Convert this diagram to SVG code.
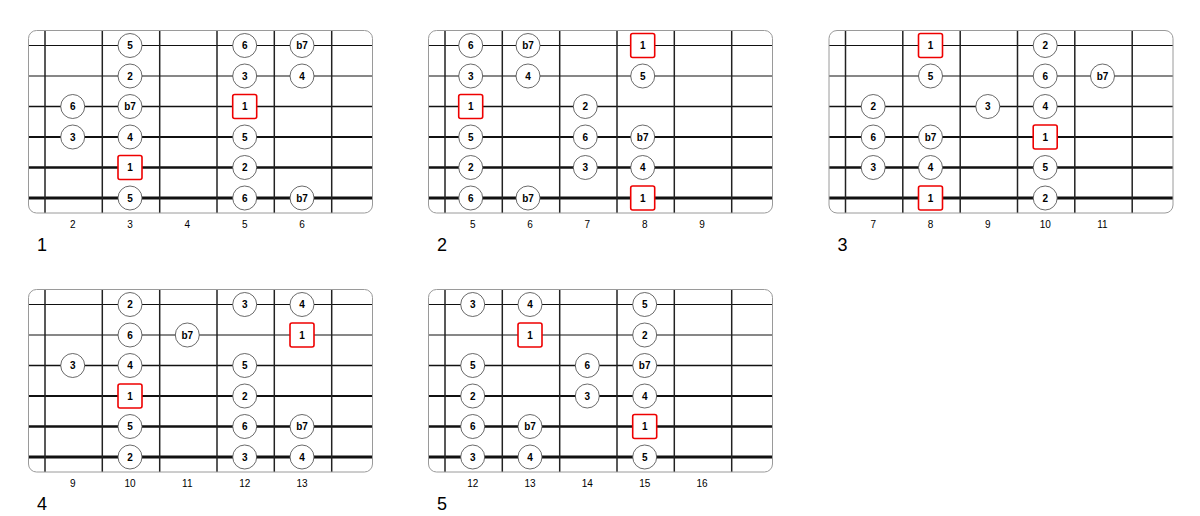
<svg xmlns="http://www.w3.org/2000/svg" width="1200" height="516" viewBox="0 0 1200 516">
<style>
.bg{fill:#fff}
.frame{fill:none;stroke:#9a9a9a;stroke-width:1}
.fret{stroke:#222;stroke-width:1.5}
.s0{stroke:#111;stroke-width:1}
.s1{stroke:#111;stroke-width:1.2}
.s2{stroke:#111;stroke-width:1.6}
.s3{stroke:#111;stroke-width:2}
.s4{stroke:#111;stroke-width:2.4}
.s5{stroke:#111;stroke-width:2.8}
.dot circle{fill:#fff;stroke:#444;stroke-width:0.8}
.root rect{fill:#fff;stroke:#e00;stroke-width:1.6}
.dot text,.root text{font-family:"Liberation Sans",Arial,sans-serif;font-size:10px;font-weight:bold;text-anchor:middle;fill:#000}
.fl{font-family:"Liberation Sans",Arial,sans-serif;font-size:10px;text-anchor:middle;fill:#000}
.num{font-family:"Liberation Sans",Arial,sans-serif;font-size:18px;fill:#000}
</style>
<defs>
<g id="board">
<rect class="bg" x="28.5" y="30.5" width="344" height="182.5" rx="8"/>
<line class="s0" x1="28.5" y1="45.5" x2="372.5" y2="45.5"/>
<line class="s1" x1="28.5" y1="76" x2="372.5" y2="76"/>
<line class="s2" x1="28.5" y1="106.5" x2="372.5" y2="106.5"/>
<line class="s3" x1="28.5" y1="137" x2="372.5" y2="137"/>
<line class="s4" x1="28.5" y1="167.5" x2="372.5" y2="167.5"/>
<line class="s5" x1="28.5" y1="198" x2="372.5" y2="198"/>
<line class="fret" x1="45" y1="30.5" x2="45" y2="213"/>
<line class="fret" x1="102.3" y1="30.5" x2="102.3" y2="213"/>
<line class="fret" x1="159.7" y1="30.5" x2="159.7" y2="213"/>
<line class="fret" x1="217" y1="30.5" x2="217" y2="213"/>
<line class="fret" x1="274.3" y1="30.5" x2="274.3" y2="213"/>
<line class="fret" x1="331.7" y1="30.5" x2="331.7" y2="213"/>
<rect class="frame" x="28.5" y="30.5" width="344" height="182.5" rx="8"/>
</g>
</defs>

<!-- Diagram 1 -->
<g id="diagram1">
<use href="#board"/>
<g id="d1-labels">
<text class="fl" x="72.7" y="227.5">2</text><text class="fl" x="130" y="227.5">3</text><text class="fl" x="187.3" y="227.5">4</text><text class="fl" x="244.7" y="227.5">5</text><text class="fl" x="302" y="227.5">6</text>
<text class="num" x="37" y="251">1</text>
</g>
<g id="d1-s1-c1" class="dot" transform="translate(130,45.5)"><circle r="12"/><text y="3.5">5</text></g>
<g id="d1-s1-c3" class="dot" transform="translate(244.7,45.5)"><circle r="12"/><text y="3.5">6</text></g>
<g id="d1-s1-c4" class="dot" transform="translate(302,45.5)"><circle r="12"/><text y="3.5">b7</text></g>
<g id="d1-s2-c1" class="dot" transform="translate(130,76)"><circle r="12"/><text y="3.5">2</text></g>
<g id="d1-s2-c3" class="dot" transform="translate(244.7,76)"><circle r="12"/><text y="3.5">3</text></g>
<g id="d1-s2-c4" class="dot" transform="translate(302,76)"><circle r="12"/><text y="3.5">4</text></g>
<g id="d1-s3-c0" class="dot" transform="translate(72.7,106.5)"><circle r="12"/><text y="3.5">6</text></g>
<g id="d1-s3-c1" class="dot" transform="translate(130,106.5)"><circle r="12"/><text y="3.5">b7</text></g>
<g id="d1-s3-c3" class="root" transform="translate(244.7,106.5)"><rect x="-12" y="-12" width="24" height="24" rx="2"/><text y="3.5">1</text></g>
<g id="d1-s4-c0" class="dot" transform="translate(72.7,137)"><circle r="12"/><text y="3.5">3</text></g>
<g id="d1-s4-c1" class="dot" transform="translate(130,137)"><circle r="12"/><text y="3.5">4</text></g>
<g id="d1-s4-c3" class="dot" transform="translate(244.7,137)"><circle r="12"/><text y="3.5">5</text></g>
<g id="d1-s5-c1" class="root" transform="translate(130,167.5)"><rect x="-12" y="-12" width="24" height="24" rx="2"/><text y="3.5">1</text></g>
<g id="d1-s5-c3" class="dot" transform="translate(244.7,167.5)"><circle r="12"/><text y="3.5">2</text></g>
<g id="d1-s6-c1" class="dot" transform="translate(130,198)"><circle r="12"/><text y="3.5">5</text></g>
<g id="d1-s6-c3" class="dot" transform="translate(244.7,198)"><circle r="12"/><text y="3.5">6</text></g>
<g id="d1-s6-c4" class="dot" transform="translate(302,198)"><circle r="12"/><text y="3.5">b7</text></g>
</g>

<!-- Diagram 2 -->
<g id="diagram2" transform="translate(400,0)">
<use href="#board"/>
<g id="d2-labels">
<text class="fl" x="72.7" y="227.5">5</text><text class="fl" x="130" y="227.5">6</text><text class="fl" x="187.3" y="227.5">7</text><text class="fl" x="244.7" y="227.5">8</text><text class="fl" x="302" y="227.5">9</text>
<text class="num" x="37" y="251">2</text>
</g>
<g transform="translate(-2,0)">
<g id="d2-s1-c0" class="dot" transform="translate(72.7,45.5)"><circle r="12"/><text y="3.5">6</text></g>
<g id="d2-s1-c1" class="dot" transform="translate(130,45.5)"><circle r="12"/><text y="3.5">b7</text></g>
<g id="d2-s1-c3" class="root" transform="translate(244.7,45.5)"><rect x="-12" y="-12" width="24" height="24" rx="2"/><text y="3.5">1</text></g>
<g id="d2-s2-c0" class="dot" transform="translate(72.7,76)"><circle r="12"/><text y="3.5">3</text></g>
<g id="d2-s2-c1" class="dot" transform="translate(130,76)"><circle r="12"/><text y="3.5">4</text></g>
<g id="d2-s2-c3" class="dot" transform="translate(244.7,76)"><circle r="12"/><text y="3.5">5</text></g>
<g id="d2-s3-c0" class="root" transform="translate(72.7,106.5)"><rect x="-12" y="-12" width="24" height="24" rx="2"/><text y="3.5">1</text></g>
<g id="d2-s3-c2" class="dot" transform="translate(187.3,106.5)"><circle r="12"/><text y="3.5">2</text></g>
<g id="d2-s4-c0" class="dot" transform="translate(72.7,137)"><circle r="12"/><text y="3.5">5</text></g>
<g id="d2-s4-c2" class="dot" transform="translate(187.3,137)"><circle r="12"/><text y="3.5">6</text></g>
<g id="d2-s4-c3" class="dot" transform="translate(244.7,137)"><circle r="12"/><text y="3.5">b7</text></g>
<g id="d2-s5-c0" class="dot" transform="translate(72.7,167.5)"><circle r="12"/><text y="3.5">2</text></g>
<g id="d2-s5-c2" class="dot" transform="translate(187.3,167.5)"><circle r="12"/><text y="3.5">3</text></g>
<g id="d2-s5-c3" class="dot" transform="translate(244.7,167.5)"><circle r="12"/><text y="3.5">4</text></g>
<g id="d2-s6-c0" class="dot" transform="translate(72.7,198)"><circle r="12"/><text y="3.5">6</text></g>
<g id="d2-s6-c1" class="dot" transform="translate(130,198)"><circle r="12"/><text y="3.5">b7</text></g>
<g id="d2-s6-c3" class="root" transform="translate(244.7,198)"><rect x="-12" y="-12" width="24" height="24" rx="2"/><text y="3.5">1</text></g>
</g>
</g>

<!-- Diagram 3 -->
<g id="diagram3" transform="translate(800.5,0)">
<use href="#board"/>
<g id="d3-labels">
<text class="fl" x="72.7" y="227.5">7</text><text class="fl" x="130" y="227.5">8</text><text class="fl" x="187.3" y="227.5">9</text><text class="fl" x="244.7" y="227.5">10</text><text class="fl" x="302" y="227.5">11</text>
<text class="num" x="37" y="251">3</text>
</g>
<g id="d3-s1-c1" class="root" transform="translate(130,45.5)"><rect x="-12" y="-12" width="24" height="24" rx="2"/><text y="3.5">1</text></g>
<g id="d3-s1-c3" class="dot" transform="translate(244.7,45.5)"><circle r="12"/><text y="3.5">2</text></g>
<g id="d3-s2-c1" class="dot" transform="translate(130,76)"><circle r="12"/><text y="3.5">5</text></g>
<g id="d3-s2-c3" class="dot" transform="translate(244.7,76)"><circle r="12"/><text y="3.5">6</text></g>
<g id="d3-s2-c4" class="dot" transform="translate(302,76)"><circle r="12"/><text y="3.5">b7</text></g>
<g id="d3-s3-c0" class="dot" transform="translate(72.7,106.5)"><circle r="12"/><text y="3.5">2</text></g>
<g id="d3-s3-c2" class="dot" transform="translate(187.3,106.5)"><circle r="12"/><text y="3.5">3</text></g>
<g id="d3-s3-c3" class="dot" transform="translate(244.7,106.5)"><circle r="12"/><text y="3.5">4</text></g>
<g id="d3-s4-c0" class="dot" transform="translate(72.7,137)"><circle r="12"/><text y="3.5">6</text></g>
<g id="d3-s4-c1" class="dot" transform="translate(130,137)"><circle r="12"/><text y="3.5">b7</text></g>
<g id="d3-s4-c3" class="root" transform="translate(244.7,137)"><rect x="-12" y="-12" width="24" height="24" rx="2"/><text y="3.5">1</text></g>
<g id="d3-s5-c0" class="dot" transform="translate(72.7,167.5)"><circle r="12"/><text y="3.5">3</text></g>
<g id="d3-s5-c1" class="dot" transform="translate(130,167.5)"><circle r="12"/><text y="3.5">4</text></g>
<g id="d3-s5-c3" class="dot" transform="translate(244.7,167.5)"><circle r="12"/><text y="3.5">5</text></g>
<g id="d3-s6-c1" class="root" transform="translate(130,198)"><rect x="-12" y="-12" width="24" height="24" rx="2"/><text y="3.5">1</text></g>
<g id="d3-s6-c3" class="dot" transform="translate(244.7,198)"><circle r="12"/><text y="3.5">2</text></g>
</g>

<!-- Diagram 4 -->
<g id="diagram4" transform="translate(0,259)">
<use href="#board"/>
<g id="d4-labels">
<text class="fl" x="72.7" y="227.5">9</text><text class="fl" x="130" y="227.5">10</text><text class="fl" x="187.3" y="227.5">11</text><text class="fl" x="244.7" y="227.5">12</text><text class="fl" x="302" y="227.5">13</text>
<text class="num" x="37" y="251">4</text>
</g>
<g id="d4-s1-c1" class="dot" transform="translate(130,45.5)"><circle r="12"/><text y="3.5">2</text></g>
<g id="d4-s1-c3" class="dot" transform="translate(244.7,45.5)"><circle r="12"/><text y="3.5">3</text></g>
<g id="d4-s1-c4" class="dot" transform="translate(302,45.5)"><circle r="12"/><text y="3.5">4</text></g>
<g id="d4-s2-c1" class="dot" transform="translate(130,76)"><circle r="12"/><text y="3.5">6</text></g>
<g id="d4-s2-c2" class="dot" transform="translate(187.3,76)"><circle r="12"/><text y="3.5">b7</text></g>
<g id="d4-s2-c4" class="root" transform="translate(302,76)"><rect x="-12" y="-12" width="24" height="24" rx="2"/><text y="3.5">1</text></g>
<g id="d4-s3-c0" class="dot" transform="translate(72.7,106.5)"><circle r="12"/><text y="3.5">3</text></g>
<g id="d4-s3-c1" class="dot" transform="translate(130,106.5)"><circle r="12"/><text y="3.5">4</text></g>
<g id="d4-s3-c3" class="dot" transform="translate(244.7,106.5)"><circle r="12"/><text y="3.5">5</text></g>
<g id="d4-s4-c1" class="root" transform="translate(130,137)"><rect x="-12" y="-12" width="24" height="24" rx="2"/><text y="3.5">1</text></g>
<g id="d4-s4-c3" class="dot" transform="translate(244.7,137)"><circle r="12"/><text y="3.5">2</text></g>
<g id="d4-s5-c1" class="dot" transform="translate(130,167.5)"><circle r="12"/><text y="3.5">5</text></g>
<g id="d4-s5-c3" class="dot" transform="translate(244.7,167.5)"><circle r="12"/><text y="3.5">6</text></g>
<g id="d4-s5-c4" class="dot" transform="translate(302,167.5)"><circle r="12"/><text y="3.5">b7</text></g>
<g id="d4-s6-c1" class="dot" transform="translate(130,198)"><circle r="12"/><text y="3.5">2</text></g>
<g id="d4-s6-c3" class="dot" transform="translate(244.7,198)"><circle r="12"/><text y="3.5">3</text></g>
<g id="d4-s6-c4" class="dot" transform="translate(302,198)"><circle r="12"/><text y="3.5">4</text></g>
</g>

<!-- Diagram 5 -->
<g id="diagram5" transform="translate(400,259)">
<use href="#board"/>
<g id="d5-labels">
<text class="fl" x="72.7" y="227.5">12</text><text class="fl" x="130" y="227.5">13</text><text class="fl" x="187.3" y="227.5">14</text><text class="fl" x="244.7" y="227.5">15</text><text class="fl" x="302" y="227.5">16</text>
<text class="num" x="37" y="251">5</text>
</g>
<g id="d5-s1-c0" class="dot" transform="translate(72.7,45.5)"><circle r="12"/><text y="3.5">3</text></g>
<g id="d5-s1-c1" class="dot" transform="translate(130,45.5)"><circle r="12"/><text y="3.5">4</text></g>
<g id="d5-s1-c3" class="dot" transform="translate(244.7,45.5)"><circle r="12"/><text y="3.5">5</text></g>
<g id="d5-s2-c1" class="root" transform="translate(130,76)"><rect x="-12" y="-12" width="24" height="24" rx="2"/><text y="3.5">1</text></g>
<g id="d5-s2-c3" class="dot" transform="translate(244.7,76)"><circle r="12"/><text y="3.5">2</text></g>
<g id="d5-s3-c0" class="dot" transform="translate(72.7,106.5)"><circle r="12"/><text y="3.5">5</text></g>
<g id="d5-s3-c2" class="dot" transform="translate(187.3,106.5)"><circle r="12"/><text y="3.5">6</text></g>
<g id="d5-s3-c3" class="dot" transform="translate(244.7,106.5)"><circle r="12"/><text y="3.5">b7</text></g>
<g id="d5-s4-c0" class="dot" transform="translate(72.7,137)"><circle r="12"/><text y="3.5">2</text></g>
<g id="d5-s4-c2" class="dot" transform="translate(187.3,137)"><circle r="12"/><text y="3.5">3</text></g>
<g id="d5-s4-c3" class="dot" transform="translate(244.7,137)"><circle r="12"/><text y="3.5">4</text></g>
<g id="d5-s5-c0" class="dot" transform="translate(72.7,167.5)"><circle r="12"/><text y="3.5">6</text></g>
<g id="d5-s5-c1" class="dot" transform="translate(130,167.5)"><circle r="12"/><text y="3.5">b7</text></g>
<g id="d5-s5-c3" class="root" transform="translate(244.7,167.5)"><rect x="-12" y="-12" width="24" height="24" rx="2"/><text y="3.5">1</text></g>
<g id="d5-s6-c0" class="dot" transform="translate(72.7,198)"><circle r="12"/><text y="3.5">3</text></g>
<g id="d5-s6-c1" class="dot" transform="translate(130,198)"><circle r="12"/><text y="3.5">4</text></g>
<g id="d5-s6-c3" class="dot" transform="translate(244.7,198)"><circle r="12"/><text y="3.5">5</text></g>
</g>
</svg>
